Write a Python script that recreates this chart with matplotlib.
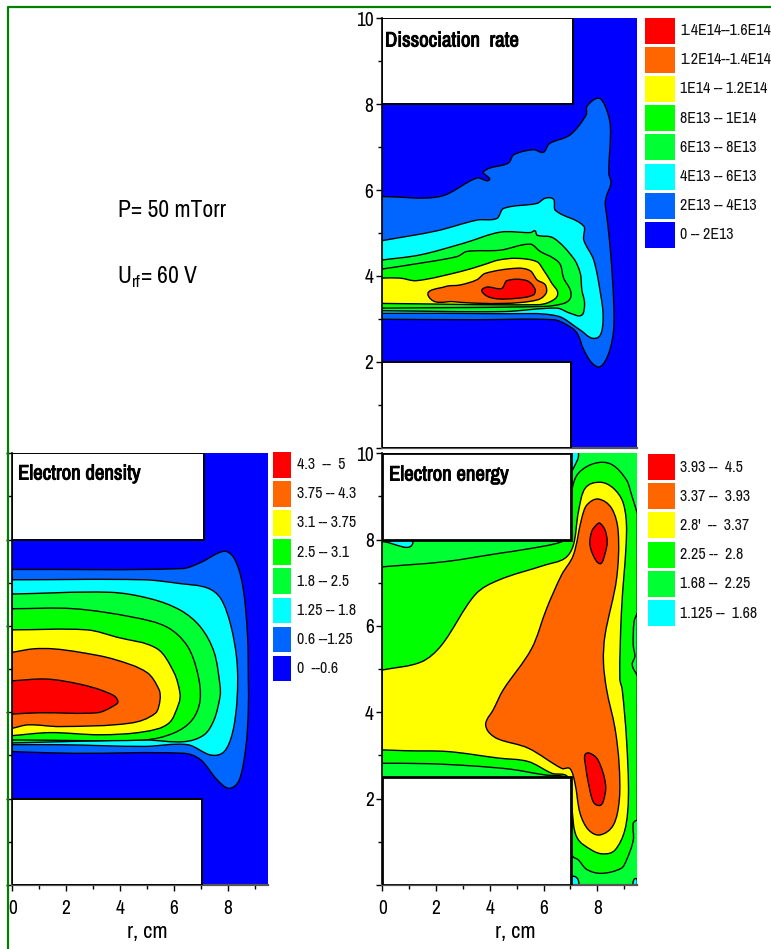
import numpy as np
import matplotlib
matplotlib.use("Agg")
import matplotlib.pyplot as plt
import matplotlib.patheffects as pe
from matplotlib.patches import Rectangle, PathPatch
from matplotlib.path import Path

plt.rcParams['font.family'] = ['Archivo Narrow', 'PT Sans Narrow', 'Roboto Condensed', 'Liberation Sans', 'DejaVu Sans']

W, H = 771, 949
RED, ORANGE, YELLOW, LIME, GREEN, CYAN, SKY, BLUE = (
    '#ff0000', '#ff6600', '#ffff00', '#00ff00', '#00ff33', '#00ffff', '#0066ff', '#0000ff')

# Dissociation rate: contour outlines (r cm, z cm), outermost first
DISS_2E13 = [(0,5.85),(2.17,5.85),(3.54,6.28),(4.01,6.24),(3.79,6.43),(4.72,6.63),(4.91,6.82),(5.65,6.94),
             (6.02,6.88),(6.24,7.08),(7.02,7.29),(7.61,7.75),(7.64,7.95),(8.07,8.14),(8.32,7.95),(8.51,7.48),
             (8.45,6.40),(8.53,6.16),(8.36,5.85),(8.32,5.69),(8.41,5.22),(8.53,4.45),(8.63,3.44),(8.63,2.74),
             (8.45,2.20),(8.14,1.89),(7.83,1.97),(7.52,2.28),(7.27,2.67),(6.89,2.86),(6.40,2.98),(3.42,2.98),(0,2.99)]
DISS_4E13 = [(0,4.82),(2.05,5.05),(3.54,5.30),(4.29,5.34),(4.53,5.57),(5.78,5.69),(6.09,5.81),(6.40,5.78),
             (6.46,5.53),(7.52,5.16),(7.52,4.84),(7.89,4.37),(8.14,3.60),(8.24,3.05),(8.14,2.63),(7.83,2.55),
             (7.39,2.74),(6.52,3.07),(4.53,3.12),(0,3.13)]
DISS_6E13 = [(0,4.37),(1.43,4.49),(3.04,4.76),(4.41,5.02),(5.53,5.01),(5.71,5.05),(5.78,4.95),(6.40,4.88),
             (7.14,4.41),(7.39,4.06),(7.45,3.67),(7.55,3.36),(7.45,3.09),(7.02,3.13),(6.52,3.25),(4.53,3.17),(0,3.19)]
DISS_8E13 = [(0,4.16),(1.06,4.26),(2.80,4.45),(3.17,4.57),(4.41,4.60),(5.53,4.74),(5.90,4.57),(6.40,4.41),
             (6.65,4.26),(6.77,3.95),(7.02,3.67),(7.02,3.48),(6.77,3.36),(6.02,3.29),(0,3.25)]
DISS_1E14 = [(0,3.95),(0.68,3.95),(1.30,3.89),(2.92,4.10),(3.79,4.26),(4.35,4.37),(5.03,4.41),(5.78,4.33),
             (6.02,4.14),(6.33,3.83),(6.55,3.58),(6.27,3.40),(5.78,3.33),(0,3.36)]
DISS_12E14 = [(1.74,3.53),(2.36,3.75),(2.92,3.79),(3.54,3.91),(3.85,4.06),(5.03,4.18),(5.53,4.12),(5.78,3.91),
              (6.09,3.79),(6.12,3.60),(5.78,3.44),(4.53,3.36),(2.67,3.40)]
DISS_14E14 = [(3.73,3.64),(3.91,3.74),(4.47,3.71),(4.66,3.89),(5.40,3.89),(5.71,3.69),(5.65,3.56),(5.03,3.48),(4.16,3.48)]
DISS_LABELS = ['1.4E14--1.6E14', '1.2E14--1.4E14', '1E14 -- 1.2E14', '8E13 -- 1E14',
               '6E13 -- 8E13', '4E13 -- 6E13', '2E13 -- 4E13', '0 -- 2E13']

# Electron density
DENS_06 = [(0,7.31),(6.32,7.33),(7.0,7.47),(7.87,7.73),(8.25,7.56),(8.56,6.94),(8.74,5.78),(8.77,4.77),(8.77,4.06),
           (8.68,3.21),(8.43,2.43),(8.06,2.24),(7.62,2.43),(7.0,2.90),(6.38,3.05),(2.28,3.05),(0,3.09)]
DENS_125 = [(0,7.07),(4.89,7.07),(6.26,6.98),(7.25,6.88),(7.75,6.63),(8.12,6.01),(8.35,5.16),(8.35,4.29),
            (8.18,3.52),(7.87,3.09),(7.38,3.01),(6.51,3.25),(4.89,3.21),(1.78,3.25),(0,3.25)]
DENS_18 = [(0,6.74),(3.64,6.78),(5.14,6.63),(6.26,6.36),(7.0,5.97),(7.50,5.39),(7.72,4.61),(7.72,4.37),
           (7.50,3.83),(7.13,3.48),(6.38,3.32),(4.89,3.36),(0,3.29)]
DENS_25 = [(0,6.40),(2.28,6.40),(4.51,6.20),(5.76,5.97),(6.50,5.54),(6.88,4.92),(6.98,4.29),(6.69,3.83),(6.0,3.52),(4.89,3.36),(0,3.36)]
DENS_31 = [(0,5.91),(2.77,5.91),(3.89,5.74),(5.39,5.47),(6.01,4.92),(6.23,4.44),(6.19,4.21),(5.82,3.75),(4.89,3.55),(3.27,3.48),(1.41,3.53),(0,3.46)]
DENS_375 = [(0,5.39),(0.78,5.47),(1.53,5.47),(2.52,5.39),(3.77,5.23),(5.01,4.92),(5.45,4.53),(5.49,4.29),(5.32,3.98),(4.39,3.75),(1.78,3.67),(0.60,3.71),(0,3.63)]
DENS_43 = [(0,4.73),(1.28,4.77),(2.52,4.65),(3.52,4.46),(3.92,4.27),(3.71,4.13),(3.15,3.99),(1.03,3.99),(0,3.96)]
DENS_LABELS = ['4.3  --  5', '3.75 -- 4.3', '3.1 -- 3.75', '2.5 -- 3.1', '1.8 -- 2.5', '1.25 -- 1.8', '0.6 --1.25', '0  --0.6']

# Electron energy
ENER_225 = [(0,7.37),(2.33,7.49),(4.32,7.68),(5.56,7.80),(6.67,7.95),(6.95,8.11),(7.02,8.65),(7.07,9.19),(7.30,9.54),
            (7.92,9.77),(8.54,9.74),(9.09,9.38),(9.28,9.03),(9.49,8.61),(9.49,1.51),(9.34,1.43),(9.34,1.04),(9.09,0.58),
            (8.90,0.39),(8.16,0.27),(7.61,0.36),(7.30,0.58),(7.07,0.70),(7.02,2.20),(6.92,2.47),(6.05,2.55),(5.56,2.60),
            (4.81,2.68),(3.32,2.76),(1.71,2.81),(0,2.82)]
ENER_28 = [(0,4.98),(1.46,5.17),(2.21,5.56),(3.45,6.72),(4.32,7.06),(6.05,7.41),(6.80,7.57),(7.11,7.87),(7.30,8.65),
           (7.55,9.19),(8.10,9.33),(8.60,9.19),(8.97,8.84),(9.09,8.18),(8.90,6.33),(8.84,4.78),(8.93,4.52),(9.09,3.36),
           (9.16,2.05),(9.03,1.28),(8.66,0.81),(8.23,0.72),(7.79,0.81),(7.23,1.12),(7.05,1.82),(6.95,2.47),(6.30,2.59),
           (5.43,2.86),(4.32,2.94),(2.46,3.09),(0.91,3.11),(0,3.13)]
ENER_337 = [(4.50,4.52),(5.56,5.48),(6.12,6.41),(6.67,7.18),(7.11,7.64),(7.42,8.49),(7.61,8.80),(8.04,8.94),(8.54,8.72),
            (8.78,8.18),(8.72,7.10),(8.29,5.79),(8.23,5.17),(8.35,4.52),(8.66,3.63),(8.81,2.82),(8.82,1.97),(8.60,1.39),
            (8.10,1.16),(7.67,1.28),(7.36,1.66),(7.17,2.36),(6.99,2.69),(6.68,2.70),(5.43,3.17),(4.32,3.38),(3.95,3.55),
            (3.85,3.75),(4.13,4.06)]
ENER_393_UP = [(8.10,8.38),(8.29,8.22),(8.37,7.95),(8.29,7.68),(8.14,7.45),(7.94,7.53),(7.73,7.87),(7.79,8.18),(7.98,8.35)]
ENER_393_LOW = [(7.54,3.01),(7.73,3.05),(8.04,2.88),(8.31,2.32),(8.22,1.93),(8.08,1.84),(7.85,1.93),(7.67,2.36),(7.57,2.74)]
ENER_EDGE_GREEN = [(9.49,6.30),(9.37,6.10),(9.34,5.55),(9.40,5.30),(9.30,5.10),(9.49,4.85)]
ENER_CYAN_TOP = [(7.02,10),(7.30,10),(7.11,9.65),(7.02,9.60)]
ENER_CYAN_LEFT = [(0,7.95),(0,8.0),(1.15,8.0)]
ENER_CYAN_BL = [(7.05,0),(7.30,0),(7.25,0.16),(7.05,0.18)]
ENER_CYAN_BR = [(9.34,0),(9.49,0),(9.49,0.15),(9.37,0.13)]
ENER_LABELS = ['3.93 --  4.5', '3.37 --  3.93', "2.8'  --  3.37", '2.25 --  2.8', '1.68 --  2.25', '1.125 --  1.68']

R_MAX = 9.49
Z_TICKS = [0, 2, 4, 6, 8, 10]
R_TICKS = [0, 2, 4, 6, 8]

fig = plt.figure(figsize=(W / 100, H / 100), dpi=100, facecolor='white')


def px_axes(x0, y0, x1, y1, **kw):
    return fig.add_axes([x0 / W, 1 - y1 / H, (x1 - x0) / W, (y1 - y0) / H], **kw)


def outline(points):
    """Closed Bezier path through the read points; points on the panel edge stay sharp corners."""
    p = np.asarray(points, float)
    n = len(p)
    sharp = (p[:, 0] <= 0) | (p[:, 0] >= R_MAX)
    verts, codes = [p[0]], [Path.MOVETO]
    for i in range(n):
        j = (i + 1) % n
        seg = p[j] - p[i]
        length = np.hypot(*seg)

        def tangent(k):
            t = p[(k + 1) % n] - p[(k - 1) % n]
            return t / (np.hypot(*t) or 1)
        c1 = p[i] + seg / 3 if sharp[i] else p[i] + tangent(i) * length / 3
        c2 = p[j] - seg / 3 if sharp[j] else p[j] - tangent(j) * length / 3
        verts += [c1, c2, p[j]]
        codes += [Path.CURVE4] * 3
    return Path(np.array(verts), codes)


def panel(box, base, fills, wall_top, wall_bot, z_wall_bot, ylabels, xlabels, label_x=0.5, wall_lw=1.4):
    ax = px_axes(*box, facecolor=base)
    ax.set_xlim(0, R_MAX)
    ax.set_ylim(0, 10)
    for pts, col in fills:
        ax.add_patch(PathPatch(outline(pts), facecolor=col, edgecolor='black', linewidth=1.0, zorder=2))
    ax.add_patch(Rectangle((0, 8), wall_top, 2, fc='white', ec='black', lw=wall_lw, zorder=3))
    ax.add_patch(Rectangle((0, 0), wall_bot, z_wall_bot, fc='white', ec='black', lw=wall_lw, zorder=3))
    for s in ('top', 'right'):
        ax.spines[s].set_visible(False)
    ax.spines['left'].set_linewidth(1.2)
    ax.spines['bottom'].set_linewidth(1.6)
    ax.spines['bottom'].set_color('#555555')
    ax.set_yticks(Z_TICKS)
    ax.set_yticks(range(1, 10, 2), minor=True)
    ax.set_yticklabels([str(v) if v and ylabels else '' for v in Z_TICKS], fontsize=14)
    ax.set_xticks(R_TICKS if xlabels else [])
    ax.set_xticks(range(1, 10, 2) if xlabels else [], minor=True)
    ax.tick_params(axis='y', which='major', length=4, width=1, pad=2)
    ax.tick_params(axis='x', which='major', length=4, width=1, pad=6)
    ax.tick_params(axis='both', which='minor', length=3, width=1)
    if xlabels:
        ax.set_xticklabels([str(v) for v in R_TICKS], fontsize=14)
        ax.set_xlabel('r, cm', fontsize=16, labelpad=3, x=label_x)
    return ax


panel((381.7, 18.3, 636.7, 447.7), BLUE,
      [(DISS_2E13, SKY), (DISS_4E13, CYAN), (DISS_6E13, GREEN), (DISS_8E13, LIME),
       (DISS_1E14, YELLOW), (DISS_12E14, ORANGE), (DISS_14E14, RED)], 7.12, 7.04, 2, True, False)
panel((12.3, 453.3, 267.7, 885), BLUE,
      [(DENS_06, SKY), (DENS_125, CYAN), (DENS_18, GREEN), (DENS_25, LIME),
       (DENS_31, YELLOW), (DENS_375, ORANGE), (DENS_43, RED)], 7.12, 7.04, 2, False, True, label_x=0.527)
panel((382.3, 453.3, 637.3, 885), GREEN,
      [(ENER_225, LIME), (ENER_EDGE_GREEN, GREEN), (ENER_28, YELLOW), (ENER_337, ORANGE),
       (ENER_393_UP, RED), (ENER_393_LOW, RED), (ENER_CYAN_TOP, CYAN), (ENER_CYAN_LEFT, CYAN),
       (ENER_CYAN_BL, CYAN), (ENER_CYAN_BR, CYAN)], 7.02, 7.02, 2.5, True, True, label_x=0.52, wall_lw=2.0)

# overlay in image pixels: frame, legends and free text
ov = px_axes(0, 0, W, H, facecolor='none', zorder=10)
ov.set_xlim(0, W)
ov.set_ylim(H, 0)
ov.axis('off')
ov.plot([W, 8, 8], [6.5, 6.5, H], color='#008000', lw=1.6, solid_capstyle='butt')


def legend(x0, x1, top, pitch, height, colors, labels, tx):
    for i, (c, t) in enumerate(zip(colors, labels)):
        y = top + i * pitch
        ov.add_patch(Rectangle((x0, y), x1 - x0, height, fc=c, ec='none'))
        ov.text(tx, y + height / 2, t, fontsize=11.5, va='center', ha='left', color='#111111')


ALL = [RED, ORANGE, YELLOW, LIME, GREEN, CYAN, SKY, BLUE]
legend(645, 675, 17.5, 29.2, 26, ALL, DISS_LABELS, 680)
legend(273, 291, 452, 29.1, 25.5, ALL, DENS_LABELS, 297)
legend(648, 675, 454, 29.2, 26, ALL[:6], ENER_LABELS, 680)

BOLD = [pe.withStroke(linewidth=0.7, foreground='black')]
ov.text(385, 41, 'Dissociation  rate', fontsize=15, va='center', path_effects=BOLD)
ov.text(18, 474, 'Electron density', fontsize=15, va='center', path_effects=BOLD)
ov.text(389, 475, 'Electron energy', fontsize=15, va='center', path_effects=BOLD)
ov.text(118, 210, 'P= 50 mTorr', fontsize=17, va='center')
ov.text(117, 277, r'U$_{\mathregular{rf}}$= 60 V', fontsize=17, va='center')

fig.savefig('out.png', dpi=100)
